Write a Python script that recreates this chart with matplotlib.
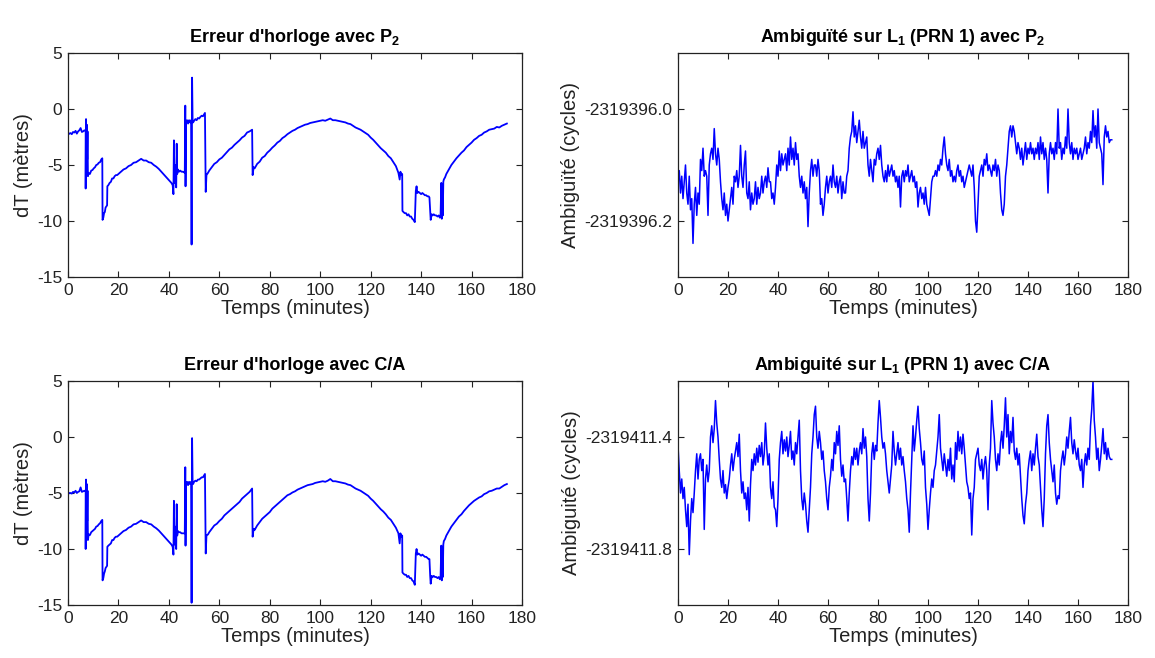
import numpy as np
import matplotlib
matplotlib.use("Agg")
import matplotlib.pyplot as plt
from matplotlib.ticker import FormatStrFormatter

plt.rcParams['font.family'] = ['Liberation Sans', 'DejaVu Sans']
plt.rcParams['mathtext.fontset'] = 'custom'
plt.rcParams['mathtext.rm'] = 'Liberation Sans'
plt.rcParams['mathtext.bf'] = 'Liberation Sans:bold'

# ---------------- data ----------------
# clock error time base (minutes), shared by P2 and C/A solutions
CLK_T = [0, 0.5, 1, 1.5, 2, 2.5, 3, 3.5, 4, 4.5, 5, 5.5, 6, 6.5, 7.0, 7.0, 7.15, 7.3, 7.45, 7.6, 7.75, 7.9,
         8.2, 8.7, 9.2, 9.7, 10.2, 10.7, 11.2, 11.7, 12.2, 12.7, 13.2, 13.6,
         13.7, 14.0, 14.3, 14.6, 14.9, 15.2, 15.5, 15.6, 16.0, 16.5, 17, 17.5, 18, 18.5, 19, 19.5, 20,
         21, 22, 23, 24, 25, 26, 27, 28, 29, 30, 31, 32, 33, 34, 35, 36, 37, 38, 39, 40, 41, 41.5, 41.8,
         42.0, 42.2, 42.4, 42.6, 42.9, 43.1, 43.3, 43.6, 44, 44.5, 45, 45.5, 46, 46.3,
         46.5, 46.6, 46.8, 47.2, 47.6, 48.0, 48.4, 48.8,
         49.0, 49.2, 49.4, 49.6, 50, 50.5, 51, 51.5, 52, 52.5, 53, 53.5, 54, 54.3,
         54.6, 54.9, 55.5, 56, 57, 58, 59, 60, 61, 62, 63, 64, 65, 66, 67, 68, 69, 70, 71, 72, 73.0,
         73.2, 73.6, 74, 75, 76, 77, 78, 79, 80, 81, 82, 83, 84, 85, 86, 87, 88, 89, 90, 91, 92, 93, 94, 95,
         96, 97, 98, 99, 100,
         101, 102, 103, 104, 105, 106, 107, 108, 109, 110, 111, 112, 113, 114, 115, 116, 117, 118, 119, 120,
         121, 122, 123, 124, 125, 126, 127, 128, 129, 130, 131,
         131.5, 131.8, 132.2, 132.5, 132.6, 133, 133.5, 134, 134.5, 135, 135.5, 136, 136.5, 137, 137.5,
         137.9, 138.2, 138.5, 139, 139.5, 140, 140.5, 141, 141.5, 142, 142.5, 143, 143.3,
         143.6, 143.8, 144.2, 144.6, 145, 145.5, 146, 146.5, 147, 147.4, 147.7,
         148.0, 148.2, 148.4, 148.6, 148.8, 149, 149.5, 150, 151, 152, 153, 154, 155, 156, 157, 158, 159, 160,
         161, 162, 163, 164, 165, 166, 167, 168, 169, 170, 171, 172, 173, 174]

CLK_P2 = [-2.3, -2.2, -2.15, -2.25, -2.05, -2.1, -1.95, -2.2, -2.0, -1.9, -1.7, -2.05, -2.0, -1.9, -2.0, -7.1,
          -0.9, -5.0, -1.4, -4.5, -2.0, -6.0,
          -5.7, -5.8, -5.5, -5.45, -5.3, -5.2, -5.0, -4.95, -4.8, -4.75, -4.5, -4.4,
          -9.9, -9.7, -9.3, -9.2, -8.8, -8.7, -8.6, -6.9, -6.8, -6.6, -6.5, -6.2, -6.2, -6.0, -5.9, -5.9, -5.8,
          -5.6, -5.4, -5.3, -5.1, -5.0, -4.8, -4.75, -4.6, -4.45, -4.6, -4.6, -4.75, -4.8, -5.0, -5.15, -5.35,
          -5.6, -5.85, -6.1, -6.35, -6.6, -6.8, -7.6,
          -2.8, -6.6, -5.0, -6.2, -7.0, -3.1, -5.8, -5.4, -5.6, -5.5, -5.6, -5.6, -5.65, -5.7,
          0.3, -6.9, -1.3, -1.0, -1.3, -1.0, -1.2, -1.0,
          -12.1, 2.8, -1.0, -1.2, -1.05, -0.9, -1.0, -0.8, -0.85, -0.7, -0.6, -0.65, -0.45, -0.35,
          -7.4, -5.9, -5.7, -5.5, -5.2, -4.9, -4.75, -4.5, -4.35, -4.1, -3.85, -3.6, -3.45, -3.2, -3.0, -2.8,
          -2.55, -2.4, -2.1, -2.0, -1.85,
          -5.9, -5.2, -5.3, -4.9, -4.7, -4.35, -4.2, -3.9, -3.7, -3.45, -3.25, -3.0, -2.85, -2.6, -2.45, -2.25,
          -2.1, -1.95, -1.85, -1.7, -1.6, -1.5, -1.4, -1.35, -1.25, -1.2, -1.15, -1.1, -1.05,
          -1.0, -1.05, -0.95, -0.85, -1.0, -1.0, -1.05, -1.1, -1.15, -1.2, -1.3, -1.35, -1.5, -1.65, -1.75,
          -1.85, -2.0, -2.15, -2.3, -2.55, -2.75, -3.0, -3.25, -3.5, -3.7, -3.9, -4.2, -4.4, -4.75, -5.1, -5.7,
          -6.3, -5.6, -5.9, -5.8, -9.1, -9.2, -9.3, -9.3, -9.5, -9.4, -9.6, -9.6, -9.8, -9.9, -10.1,
          -7.3, -6.9, -7.5, -7.4, -7.5, -7.6, -7.5, -7.6, -7.7, -7.7, -7.8, -7.8, -7.9,
          -9.2, -9.9, -9.4, -9.5, -9.4, -9.5, -9.5, -9.6, -9.5, -9.7, -9.6,
          -6.6, -9.8, -6.8, -9.5, -6.5, -6.3, -6.1, -5.8, -5.4, -5.0, -4.7, -4.4, -4.15, -3.9, -3.7, -3.4,
          -3.2, -3.0, -2.75, -2.6, -2.4, -2.3, -2.1, -2.0, -1.85, -1.8, -1.75, -1.6, -1.65, -1.5, -1.4, -1.3]

CLK_CA = [-5.1, -5.0, -5.0, -5.05, -4.9, -4.95, -4.8, -5.0, -4.9, -4.85, -4.5, -4.9, -4.85, -4.8, -4.8, -10.0,
          -3.8, -8.0, -4.2, -7.5, -4.8, -9.2,
          -8.7, -8.75, -8.5, -8.4, -8.3, -8.2, -8.0, -7.95, -7.8, -7.7, -7.5, -7.4,
          -12.8, -12.6, -12.2, -12.0, -11.7, -11.6, -11.5, -9.8, -9.7, -9.6, -9.5, -9.2, -9.2, -9.0, -8.9, -8.9,
          -8.8,
          -8.6, -8.4, -8.3, -8.1, -8.0, -7.8, -7.75, -7.6, -7.45, -7.6, -7.6, -7.75, -7.8, -8.0, -8.15, -8.35,
          -8.6, -8.85, -9.1, -9.35, -9.6, -9.8, -10.5,
          -5.7, -9.6, -8.0, -9.2, -10.0, -6.0, -8.8, -8.4, -8.5, -8.5, -8.6, -8.6, -8.6, -8.6,
          -2.7, -9.7, -4.3, -4.0, -4.3, -4.0, -4.2, -4.0,
          -14.8, -0.1, -4.0, -4.2, -4.0, -3.9, -3.95, -3.8, -3.8, -3.7, -3.6, -3.6, -3.4, -3.3,
          -10.4, -8.8, -8.7, -8.5, -8.2, -7.9, -7.75, -7.5, -7.3, -7.0, -6.8, -6.6, -6.4, -6.2, -6.0, -5.8,
          -5.5, -5.3, -5.1, -4.9, -4.6,
          -8.9, -8.2, -8.3, -7.9, -7.6, -7.3, -7.1, -6.9, -6.7, -6.4, -6.2, -6.0, -5.8, -5.6, -5.4, -5.2,
          -5.1, -4.95, -4.85, -4.7, -4.6, -4.5, -4.4, -4.3, -4.25, -4.2, -4.1, -4.05, -4.0,
          -3.95, -4.0, -3.9, -3.75, -3.95, -3.95, -4.0, -4.05, -4.1, -4.15, -4.25, -4.3, -4.45, -4.6, -4.7,
          -4.8, -4.95, -5.1, -5.25, -5.5, -5.7, -5.95, -6.2, -6.45, -6.65, -6.9, -7.2, -7.4, -7.75, -8.1, -8.6,
          -9.5, -8.6, -8.9, -8.8, -12.1, -12.2, -12.3, -12.3, -12.5, -12.4, -12.6, -12.6, -12.8, -12.9, -13.2,
          -10.4, -10.0, -10.5, -10.4, -10.5, -10.6, -10.5, -10.6, -10.7, -10.7, -10.8, -10.9, -10.9,
          -12.4, -13.1, -12.4, -12.5, -12.4, -12.5, -12.5, -12.6, -12.5, -12.7, -12.6,
          -9.7, -12.8, -9.8, -12.5, -9.6, -9.3, -9.1, -8.8, -8.4, -8.0, -7.7, -7.4, -7.1, -6.9, -6.6, -6.35,
          -6.1, -5.9, -5.7, -5.55, -5.4, -5.3, -5.1, -5.0, -4.85, -4.8, -4.7, -4.6, -4.6, -4.45, -4.3, -4.2]

# ambiguity series: one sample every AMB_DT minutes, starting at t = 0
AMB_DT = 0.5
AMB_P2 = [
    -2319396.13, -2319396.11, -2319396.15, -2319396.12, -2319396.16, -2319396.13,
    -2319396.10, -2319396.15, -2319396.17, -2319396.12,
    -2319396.18, -2319396.16, -2319396.24, -2319396.17,
    -2319396.14, -2319396.19, -2319396.15, -2319396.17,
    -2319396.09, -2319396.11, -2319396.07, -2319396.12,
    -2319396.11, -2319396.12, -2319396.19, -2319396.10,
    -2319396.08, -2319396.07, -2319396.09, -2319396.035,
    -2319396.08, -2319396.10, -2319396.07, -2319396.09,
    -2319396.13, -2319396.16, -2319396.18, -2319396.15,
    -2319396.19, -2319396.17, -2319396.20, -2319396.18,
    -2319396.16, -2319396.14, -2319396.17, -2319396.12,
    -2319396.13, -2319396.11, -2319396.14, -2319396.12,
    -2319396.065, -2319396.12, -2319396.14, -2319396.10,
    -2319396.075, -2319396.15, -2319396.16, -2319396.13,
    -2319396.18, -2319396.15, -2319396.17, -2319396.16,
    -2319396.13, -2319396.17, -2319396.14, -2319396.16,
    -2319396.15, -2319396.12, -2319396.15, -2319396.13,
    -2319396.12, -2319396.14, -2319396.105, -2319396.13,
    -2319396.13, -2319396.16, -2319396.15, -2319396.17,
    -2319396.14, -2319396.10, -2319396.12, -2319396.075,
    -2319396.11, -2319396.08, -2319396.10, -2319396.09,
    -2319396.08, -2319396.11, -2319396.07, -2319396.10,
    -2319396.05, -2319396.09, -2319396.07, -2319396.10,
    -2319396.06, -2319396.09, -2319396.08, -2319396.12,
    -2319396.14, -2319396.12, -2319396.15, -2319396.13,
    -2319396.16, -2319396.14, -2319396.21, -2319396.15,
    -2319396.11, -2319396.09, -2319396.12, -2319396.10,
    -2319396.10, -2319396.12, -2319396.09, -2319396.11,
    -2319396.17, -2319396.16, -2319396.19, -2319396.17,
    -2319396.14, -2319396.12, -2319396.15, -2319396.13,
    -2319396.12, -2319396.14, -2319396.10, -2319396.13,
    -2319396.14, -2319396.12, -2319396.15, -2319396.13,
    -2319396.12, -2319396.16, -2319396.13, -2319396.15,
    -2319396.15, -2319396.12, -2319396.11, -2319396.07,
    -2319396.05, -2319396.04, -2319396.005, -2319396.05,
    -2319396.03, -2319396.06, -2319396.04, -2319396.02,
    -2319396.05, -2319396.07, -2319396.04, -2319396.07,
    -2319396.06, -2319396.05, -2319396.10, -2319396.12,
    -2319396.09, -2319396.11, -2319396.13, -2319396.09,
    -2319396.10, -2319396.08, -2319396.07, -2319396.09,
    -2319396.065, -2319396.10, -2319396.12, -2319396.13,
    -2319396.11, -2319396.13, -2319396.10, -2319396.12,
    -2319396.11, -2319396.10, -2319396.12, -2319396.11,
    -2319396.13, -2319396.12, -2319396.14, -2319396.12,
    -2319396.175, -2319396.12, -2319396.11, -2319396.13,
    -2319396.11, -2319396.12, -2319396.10, -2319396.13,
    -2319396.12, -2319396.11, -2319396.13, -2319396.12,
    -2319396.14, -2319396.13, -2319396.175, -2319396.15,
    -2319396.14, -2319396.16, -2319396.15, -2319396.17,
    -2319396.14, -2319396.17, -2319396.18, -2319396.19,
    -2319396.16, -2319396.13, -2319396.12, -2319396.12,
    -2319396.11, -2319396.12, -2319396.10, -2319396.11,
    -2319396.09, -2319396.10, -2319396.07, -2319396.05,
    -2319396.08, -2319396.10, -2319396.11, -2319396.09,
    -2319396.12, -2319396.11, -2319396.13, -2319396.12,
    -2319396.13, -2319396.11, -2319396.10, -2319396.12,
    -2319396.11, -2319396.13, -2319396.12, -2319396.14,
    -2319396.13, -2319396.12, -2319396.11, -2319396.10,
    -2319396.11, -2319396.12, -2319396.10, -2319396.14,
    -2319396.20, -2319396.22, -2319396.17, -2319396.12,
    -2319396.11, -2319396.10, -2319396.12, -2319396.09,
    -2319396.10, -2319396.08, -2319396.11, -2319396.10,
    -2319396.11, -2319396.12, -2319396.10, -2319396.11,
    -2319396.09, -2319396.12, -2319396.10, -2319396.11,
    -2319396.15, -2319396.18, -2319396.19, -2319396.17,
    -2319396.12, -2319396.10, -2319396.07, -2319396.04,
    -2319396.03, -2319396.05, -2319396.03, -2319396.04,
    -2319396.06, -2319396.08, -2319396.06, -2319396.07,
    -2319396.09, -2319396.07, -2319396.10, -2319396.08,
    -2319396.06, -2319396.09, -2319396.07, -2319396.08,
    -2319396.06, -2319396.08, -2319396.07, -2319396.09,
    -2319396.07, -2319396.08, -2319396.06, -2319396.09,
    -2319396.05, -2319396.08, -2319396.06, -2319396.09,
    -2319396.07, -2319396.09, -2319396.15, -2319396.08,
    -2319396.06, -2319396.08, -2319396.07, -2319396.09,
    -2319396.06, -2319396.08, -2319396.00, -2319396.07,
    -2319396.06, -2319396.09, -2319396.07, -2319396.08,
    -2319396.05, -2319396.07, -2319396.00, -2319396.06,
    -2319396.08, -2319396.06, -2319396.09, -2319396.07,
    -2319396.08, -2319396.07, -2319396.09, -2319396.08,
    -2319396.07, -2319396.09, -2319396.08, -2319396.07,
    -2319396.05, -2319396.08, -2319396.06, -2319396.07,
    -2319396.04, -2319396.06, -2319396.003, -2319396.05,
    -2319396.03, -2319396.07, -2319396.00, -2319396.06,
    -2319396.07, -2319396.08, -2319396.135, -2319396.05,
    -2319396.03, -2319396.05, -2319396.04, -2319396.06,
    -2319396.055, -2319396.055]

AMB_CA = [
    -2319411.43, -2319411.52, -2319411.60, -2319411.55, -2319411.62, -2319411.58,
    -2319411.66, -2319411.72, -2319411.64, -2319411.82,
    -2319411.70, -2319411.62, -2319411.67, -2319411.60,
    -2319411.52, -2319411.46, -2319411.55, -2319411.48,
    -2319411.46, -2319411.52, -2319411.48, -2319411.73,
    -2319411.55, -2319411.50, -2319411.56, -2319411.52,
    -2319411.40, -2319411.36, -2319411.42, -2319411.37,
    -2319411.27, -2319411.35, -2319411.40, -2319411.48,
    -2319411.55, -2319411.58, -2319411.52, -2319411.60,
    -2319411.57, -2319411.62, -2319411.58, -2319411.55,
    -2319411.50, -2319411.46, -2319411.52, -2319411.48,
    -2319411.45, -2319411.42, -2319411.47, -2319411.39,
    -2319411.52, -2319411.60, -2319411.56, -2319411.62,
    -2319411.60, -2319411.66, -2319411.58, -2319411.70,
    -2319411.57, -2319411.48, -2319411.52, -2319411.46,
    -2319411.50, -2319411.44, -2319411.49, -2319411.43,
    -2319411.47, -2319411.42, -2319411.50, -2319411.46,
    -2319411.35, -2319411.44, -2319411.50, -2319411.46,
    -2319411.58, -2319411.62, -2319411.56, -2319411.65,
    -2319411.66, -2319411.72, -2319411.62, -2319411.48,
    -2319411.42, -2319411.38, -2319411.46, -2319411.41,
    -2319411.45, -2319411.40, -2319411.47, -2319411.43,
    -2319411.38, -2319411.48, -2319411.45, -2319411.50,
    -2319411.42, -2319411.46, -2319411.40, -2319411.34,
    -2319411.52, -2319411.62, -2319411.66, -2319411.60,
    -2319411.64, -2319411.70, -2319411.74, -2319411.66,
    -2319411.58, -2319411.46, -2319411.40, -2319411.32,
    -2319411.29, -2319411.40, -2319411.44, -2319411.38,
    -2319411.42, -2319411.48, -2319411.45, -2319411.52,
    -2319411.56, -2319411.62, -2319411.66, -2319411.58,
    -2319411.54, -2319411.48, -2319411.52, -2319411.42,
    -2319411.46, -2319411.38, -2319411.43, -2319411.36,
    -2319411.48, -2319411.54, -2319411.50, -2319411.56,
    -2319411.55, -2319411.62, -2319411.70, -2319411.60,
    -2319411.52, -2319411.47, -2319411.50, -2319411.44,
    -2319411.48, -2319411.44, -2319411.50, -2319411.45,
    -2319411.42, -2319411.46, -2319411.37, -2319411.44,
    -2319411.40, -2319411.47, -2319411.62, -2319411.70,
    -2319411.60, -2319411.46, -2319411.42, -2319411.48,
    -2319411.43, -2319411.45, -2319411.35, -2319411.27,
    -2319411.33, -2319411.40, -2319411.44, -2319411.42,
    -2319411.46, -2319411.52, -2319411.56, -2319411.60,
    -2319411.55, -2319411.50, -2319411.38, -2319411.45,
    -2319411.50, -2319411.46, -2319411.42, -2319411.48,
    -2319411.44, -2319411.50, -2319411.47, -2319411.52,
    -2319411.56, -2319411.62, -2319411.66, -2319411.74,
    -2319411.60, -2319411.48, -2319411.36, -2319411.45,
    -2319411.40, -2319411.34, -2319411.29, -2319411.37,
    -2319411.42, -2319411.48, -2319411.50, -2319411.45,
    -2319411.58, -2319411.64, -2319411.73, -2319411.66,
    -2319411.60, -2319411.55, -2319411.58, -2319411.52,
    -2319411.50, -2319411.45, -2319411.40, -2319411.32,
    -2319411.44, -2319411.48, -2319411.52, -2319411.46,
    -2319411.50, -2319411.54, -2319411.48, -2319411.52,
    -2319411.44, -2319411.55, -2319411.50, -2319411.56,
    -2319411.42, -2319411.48, -2319411.38, -2319411.45,
    -2319411.40, -2319411.46, -2319411.39, -2319411.44,
    -2319411.50, -2319411.56, -2319411.58, -2319411.62,
    -2319411.60, -2319411.75, -2319411.62, -2319411.58,
    -2319411.48, -2319411.46, -2319411.44, -2319411.50,
    -2319411.52, -2319411.48, -2319411.55, -2319411.50,
    -2319411.47, -2319411.52, -2319411.66, -2319411.50,
    -2319411.44, -2319411.27, -2319411.35, -2319411.40,
    -2319411.48, -2319411.52, -2319411.46, -2319411.50,
    -2319411.42, -2319411.38, -2319411.44, -2319411.36,
    -2319411.26, -2319411.40, -2319411.32, -2319411.46,
    -2319411.38, -2319411.42, -2319411.33, -2319411.45,
    -2319411.48, -2319411.44, -2319411.50, -2319411.46,
    -2319411.54, -2319411.62, -2319411.68, -2319411.71,
    -2319411.64, -2319411.60, -2319411.52, -2319411.48,
    -2319411.45, -2319411.52, -2319411.46, -2319411.50,
    -2319411.44, -2319411.39, -2319411.47, -2319411.50,
    -2319411.58, -2319411.66, -2319411.72, -2319411.62,
    -2319411.46, -2319411.36, -2319411.32, -2319411.42,
    -2319411.48, -2319411.52, -2319411.56, -2319411.50,
    -2319411.60, -2319411.64, -2319411.61, -2319411.62,
    -2319411.52, -2319411.48, -2319411.45, -2319411.50,
    -2319411.46, -2319411.40, -2319411.44, -2319411.38,
    -2319411.33, -2319411.42, -2319411.46, -2319411.41,
    -2319411.45, -2319411.48, -2319411.44, -2319411.50,
    -2319411.52, -2319411.48, -2319411.58, -2319411.50,
    -2319411.46, -2319411.50, -2319411.44, -2319411.48,
    -2319411.36, -2319411.30, -2319411.20, -2319411.34,
    -2319411.40, -2319411.48, -2319411.44, -2319411.52,
    -2319411.48, -2319411.43, -2319411.37, -2319411.46,
    -2319411.42, -2319411.48, -2319411.44, -2319411.47,
    -2319411.48, -2319411.48]

X_TICKS = [0, 20, 40, 60, 80, 100, 120, 140, 160, 180]
CLK_YTICKS = [-15, -10, -5, 0, 5]
AMB_P2_YTICKS = [-2319396.2, -2319396.0]
AMB_CA_YTICKS = [-2319411.8, -2319411.4]
AMB_P2_YLIM = (-2319396.3, -2319395.9)
AMB_CA_YLIM = (-2319412.0, -2319411.2)

TITLES = [r"Erreur d'horloge avec P$_\mathbf{2}$",
          r"Ambiguïté sur L$_\mathbf{1}$ (PRN 1) avec P$_\mathbf{2}$",
          r"Erreur d'horloge avec C/A",
          r"Ambiguité sur L$_\mathbf{1}$ (PRN 1) avec C/A"]
YLABELS = ["dT (mètres)", "Ambiguïté (cycles)", "dT (mètres)", "Ambiguité (cycles)"]
XLABEL = "Temps (minutes)"

# ---------------- figure ----------------
W, H = 1155, 658
fig = plt.figure(figsize=(W / 100, H / 100), dpi=100)
fig.patch.set_facecolor('white')

def px_axes(x0, y0, x1, y1):
    return fig.add_axes([x0 / W, 1 - y1 / H, (x1 - x0) / W, (y1 - y0) / H])

ax_tl = px_axes(68, 53, 522, 277)
ax_tr = px_axes(678, 53, 1128, 277)
ax_bl = px_axes(68, 381, 522, 605)
ax_br = px_axes(678, 381, 1128, 605)

amb_t_p2 = AMB_DT * np.arange(len(AMB_P2))
amb_t_ca = AMB_DT * np.arange(len(AMB_CA))

ax_tl.plot(CLK_T, CLK_P2, color='#0000ff', lw=1.3)
ax_bl.plot(CLK_T, CLK_CA, color='#0000ff', lw=1.3)
ax_tr.plot(amb_t_p2, AMB_P2, color='#0000ff', lw=1.1)
ax_br.plot(amb_t_ca, AMB_CA, color='#0000ff', lw=1.1)

axes = [ax_tl, ax_tr, ax_bl, ax_br]
for i, ax in enumerate(axes):
    ax.set_xlim(0, 180)
    ax.set_xticks(X_TICKS)
    ax.tick_params(direction='in', top=True, right=True, length=4, width=0.8,
                   labelsize=12.5, pad=4, colors='#222222')
    for s in ax.spines.values():
        s.set_linewidth(0.9)
        s.set_color('#222222')
    ax.set_title(TITLES[i], fontsize=13, fontweight='bold', pad=8)
    ax.set_ylabel(YLABELS[i], fontsize=14.5, color='#222222', labelpad=3)
    ax.set_xlabel(XLABEL, fontsize=14.5, color='#222222', labelpad=1)

for ax in (ax_tl, ax_bl):
    ax.set_ylim(-15, 5)
    ax.set_yticks(CLK_YTICKS)
    ax.set_yticklabels([str(v) for v in CLK_YTICKS])

ax_tr.set_ylim(*AMB_P2_YLIM)
ax_tr.set_yticks(AMB_P2_YTICKS)
ax_br.set_ylim(*AMB_CA_YLIM)
ax_br.set_yticks(AMB_CA_YTICKS)
for ax in (ax_tr, ax_br):
    ax.yaxis.set_major_formatter(FormatStrFormatter('%.1f'))

fig.savefig('out.png', dpi=100, facecolor='white')
